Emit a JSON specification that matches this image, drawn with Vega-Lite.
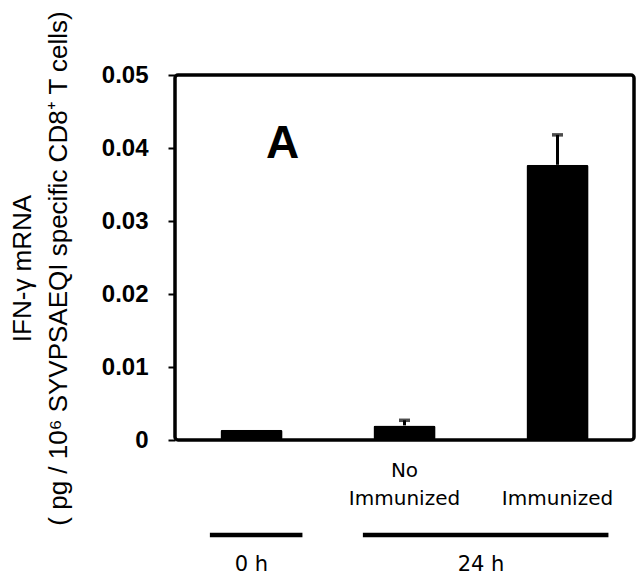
{
  "$schema": "https://vega.github.io/schema/vega-lite/v6.json",
  "padding": {"left": 7, "top": 8, "right": 0, "bottom": 0},
  "spacing": 0,
  "background": "white",
  "config": {
    "font": "Liberation Sans",
    "view": {"stroke": null},
    "axis": {"grid": false}
  },
  "vconcat": [
    {
      "width": 459,
      "height": 365,
      "view": {"stroke": "black", "strokeWidth": 3.5, "cornerRadius": 3},
      "data": {
        "values": [
          {"cat": "0h", "value": 0.0014, "upper": null},
          {"cat": "No Immunized", "value": 0.002, "upper": 0.0027},
          {"cat": "Immunized", "value": 0.0377, "upper": 0.0418}
        ]
      },
      "encoding": {
        "x": {
          "field": "cat",
          "type": "nominal",
          "sort": null,
          "scale": {"type": "band", "domain": ["0h", "No Immunized", "Immunized"], "paddingInner": 0.594, "paddingOuter": 0.297},
          "axis": {
            "title": null,
            "domain": false,
            "ticks": false,
            "labelAngle": 0,
            "labelFont": "DejaVu Sans",
            "labelFontSize": 20,
            "labelColor": "black",
            "labelPadding": 20,
            "labelLineHeight": 28,
            "labelBaseline": "top",
            "labelOverlap": false,
            "labelExpr": "datum.value == 'No Immunized' ? ['No', 'Immunized'] : datum.value == 'Immunized' ? [' ', 'Immunized'] : ''"
          }
        }
      },
      "layer": [
        {
          "mark": {"type": "bar", "color": "black", "cornerRadius": 2},
          "encoding": {
            "y": {
              "field": "value",
              "type": "quantitative",
              "scale": {"domain": [0, 0.05], "nice": false},
              "axis": {
                "title": ["IFN-γ mRNA", "( pg / 10⁶ SYVPSAEQI specific CD8⁺ T cells)"],
                "values": [0, 0.005, 0.01, 0.015, 0.02, 0.025, 0.03, 0.035, 0.04, 0.045, 0.05],
                "labelExpr": "round(datum.value * 1000) % 10 == 0 ? format(datum.value, '.2~f') : ''",
                "domain": false,
                "tickSize": 7,
                "tickWidth": 2,
                "tickColor": "black",
                "labelFont": "Liberation Sans",
                "labelFontSize": 24,
                "labelFontWeight": "bold",
                "labelColor": "black",
                "labelPadding": 20,
                "labelOverlap": false,
                "labelFlush": false,
                "titleFont": "Liberation Sans",
                "titleFontSize": 26,
                "titleFontWeight": "normal",
                "titleColor": "black",
                "titleLineHeight": 36,
                "titlePadding": 30,
                "titleY": 193
              }
            }
          }
        },
        {
          "transform": [{"filter": "isValid(datum.upper)"}],
          "mark": {"type": "rule", "color": "black", "strokeWidth": 3},
          "encoding": {
            "y": {"field": "value", "type": "quantitative"},
            "y2": {"field": "upper"}
          }
        },
        {
          "transform": [{"filter": "isValid(datum.upper)"}],
          "mark": {"type": "tick", "color": "black", "thickness": 3.5, "size": 11},
          "encoding": {
            "y": {"field": "upper", "type": "quantitative"}
          }
        },
        {
          "data": {"values": [{"panel": "A"}]},
          "mark": {"type": "text", "font": "Liberation Sans", "fontWeight": "bold", "fontSize": 46, "color": "black", "baseline": "middle"},
          "encoding": {
            "x": {"datum": "0h", "bandPosition": 1},
            "y": {"datum": 0.0405, "type": "quantitative"},
            "text": {"field": "panel"}
          }
        }
      ]
    },
    {
      "width": 459,
      "height": 14,
      "view": {"stroke": null},
      "layer": [
        {
          "data": {
            "values": [
              {"group": "0 h", "from": "0h", "to": "0h"},
              {"group": "24 h", "from": "No Immunized", "to": "Immunized"}
            ]
          },
          "mark": {"type": "rule", "color": "black", "strokeWidth": 4.5},
          "encoding": {
            "x": {
              "field": "from",
              "type": "nominal",
              "bandPosition": -0.17,
              "scale": {"type": "band", "domain": ["0h", "No Immunized", "Immunized"], "paddingInner": 0.594, "paddingOuter": 0.297},
              "axis": null
            },
            "x2": {"field": "to", "bandPosition": 1.32}
          }
        },
        {
          "data": {
            "values": [
              {"cat": "0h", "group": "0 h", "idx": 0},
              {"cat": "No Immunized", "group": "24 h", "idx": 1},
              {"cat": "Immunized", "group": "24 h", "idx": 2}
            ]
          },
          "mark": {"type": "text", "font": "DejaVu Sans", "fontSize": 21, "color": "black", "dy": 30},
          "encoding": {
            "x": {
              "aggregate": "mean",
              "field": "idx",
              "type": "quantitative",
              "scale": {"domain": [-0.5, 2.5], "nice": false, "zero": false},
              "axis": null
            },
            "text": {"field": "group"}
          }
        }
      ],
      "resolve": {"scale": {"x": "independent"}}
    }
  ]
}
